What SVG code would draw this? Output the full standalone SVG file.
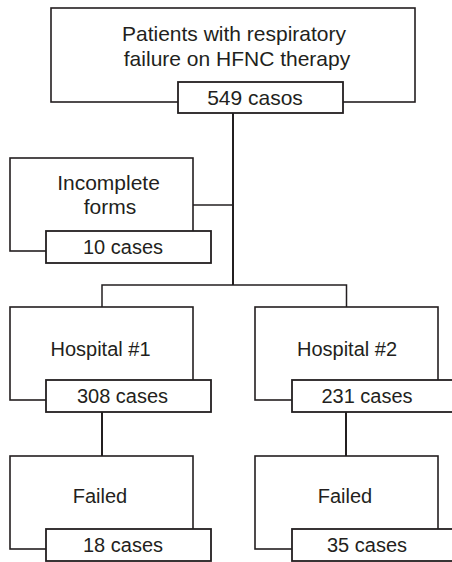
<svg xmlns="http://www.w3.org/2000/svg" width="452" height="562" viewBox="0 0 452 562">
<style>
.box{fill:#fff;stroke:#231f20;stroke-width:1.6}
.cnt{fill:#fff;stroke:#231f20;stroke-width:1.8}
.ln{fill:none;stroke:#231f20;stroke-width:2}
.ln2{fill:none;stroke:#231f20;stroke-width:1.5}
text{font-family:"Liberation Sans",Arial,sans-serif;font-size:20px;fill:#231f20;text-anchor:middle}
.lg{font-size:21px}
</style>
<rect width="452" height="562" fill="#fff"/>
<g id="connectors">
<path class="ln" d="M233 113 V285"/>
<path class="ln2" d="M193 205 H233"/>
<path class="ln2" d="M102 307 V285 H346.5 V307"/>
<path class="ln" d="M102 412 V456"/>
<path class="ln" d="M346 412 V456"/>
</g>
<g id="n-patients">
<rect class="box" x="51" y="8" width="364" height="94"/>
<text class="lg" x="234" y="41">Patients with respiratory</text>
<text class="lg" x="237" y="66">failure on HFNC therapy</text>
<rect class="cnt" x="178" y="82" width="165" height="31"/>
<text class="lg" x="255" y="105">549 casos</text>
</g>
<g id="n-incomplete">
<rect class="box" x="10" y="158" width="183" height="93"/>
<text class="lg" x="108.5" y="190">Incomplete</text>
<text class="lg" x="110" y="214">forms</text>
<rect class="cnt" x="46" y="231" width="165" height="32"/>
<text x="123" y="254">10 cases</text>
</g>
<g id="n-hospital1">
<rect class="box" x="10" y="307" width="183" height="93"/>
<text x="100.5" y="356">Hospital #1</text>
<rect class="cnt" x="46" y="380" width="165" height="32"/>
<text x="122.5" y="403">308 cases</text>
</g>
<g id="n-hospital2">
<rect class="box" x="255" y="307" width="183" height="93"/>
<text x="347" y="356">Hospital #2</text>
<rect class="cnt" x="292" y="380" width="165" height="32"/>
<text x="367" y="403">231 cases</text>
</g>
<g id="n-failed1">
<rect class="box" x="10" y="456" width="183" height="93"/>
<text x="100" y="503">Failed</text>
<rect class="cnt" x="46" y="529" width="165" height="32"/>
<text x="123" y="552">18 cases</text>
</g>
<g id="n-failed2">
<rect class="box" x="255" y="456" width="183" height="93"/>
<text x="345" y="503">Failed</text>
<rect class="cnt" x="292" y="529" width="165" height="32"/>
<text x="367" y="552">35 cases</text>
</g>
</svg>
